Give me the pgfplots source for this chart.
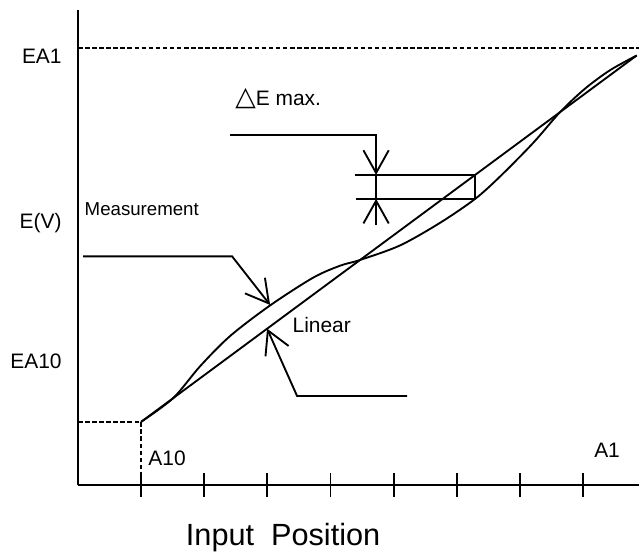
\documentclass[border=0pt]{standalone}
\usepackage{pgfplots}
\pgfplotsset{compat=1.18}
\usepackage{fontspec}
\setmainfont{Liberation Sans}
\newfontfamily\dejavu{DejaVu Sans}
\usetikzlibrary{arrows.meta}

% linearity of the output: ideal line and measured curve (x in tick steps)
\pgfplotstableread{
x      y
1.000  1.000
1.507  1.375
1.934  1.880
2.410  2.359
3.043  2.843
3.724  3.282
4.152  3.472
4.469  3.563
5.102  3.793
5.736  4.151
6.290  4.529
6.686  4.884
7.208  5.413
7.636  5.903
8.032  6.275
8.428  6.567
8.850  6.800
}\measured

\begin{document}
\begin{tikzpicture}
\tikzset{
  ln/.style={black, line width=1.4pt, no markers, solid},
  dashln/.style={ln, dash pattern=on 3.4pt off 1.9pt},
  barb/.style={ln, -{Straight Barb[length=17pt,width=19pt]}},
}
\begin{axis}[
    at={(0,0)}, anchor=south west,
    scale only axis,
    width=420.75pt, height=356.25pt,
    xmin=0, xmax=8.887,
    ymin=0, ymax=7.52,
    axis lines=left,
    axis line style={-, line width=1.4pt},
    xtick={1,...,8}, xticklabels={},
    ytick=\empty,
    tick align=center,
    major tick length=18pt,
    xtick style={line width=1.4pt, black},
    clip=false,
    font=\fontsize{15.7}{18}\selectfont,
]
% reference levels
\addplot[dashln] coordinates {(0,6.912) (8.887,6.912)};
\addplot[dashln] coordinates {(0,1) (1,1) (1,0)};

% linear and measured
\addplot[ln] coordinates {(1,1) (8.85,6.8)};
\addplot[ln, smooth, tension=0.5] table {\measured};

% deviation box
\addplot[ln] coordinates {(4.389,4.910) (6.290,4.910) (6.290,4.530) (4.405,4.530)};
\addplot[barb] coordinates {(2.410,5.543) (4.722,5.543) (4.722,4.910)};
\addplot[barb] coordinates {(4.722,4.118) (4.722,4.530)};
\addplot[ln] coordinates {(4.722,4.530) (4.722,4.910)};

% pointers
\addplot[barb] coordinates {(0.082,3.620) (2.441,3.620) (3.043,2.851)};
\addplot[barb] coordinates {(5.213,1.410) (3.470,1.410) (2.995,2.475)};

% labels
\node[anchor=east, inner sep=0] at (axis cs:-0.256,6.786) {EA1};
\node[anchor=east, inner sep=0] at (axis cs:-0.256,4.150) {E(V)};
\node[anchor=east, inner sep=0] at (axis cs:-0.256,1.964) {EA10};
\node[anchor=west, inner sep=0, font=\fontsize{14}{16}\selectfont] at (axis cs:0.102,4.363) {Measurement};
\node[anchor=west, inner sep=0] at (axis cs:3.396,2.534) {Linear};
\node[anchor=west, inner sep=0] at (axis cs:1.111,0.428) {A10};
\node[anchor=west, inner sep=0] at (axis cs:8.174,0.554) {A1};
\node[anchor=base west, inner sep=0] at (axis cs:2.489,6.003)
  {{\dejavu\fontsize{20}{20}\selectfont △}E max.};
\node[anchor=base, inner sep=0, font=\fontsize{23}{26}\selectfont] at (axis cs:3.249,-0.95) {Input~~Position};
\end{axis}
\pgfresetboundingbox
\path (-58.5pt,-49.5pt) rectangle (420.75pt,363.75pt);
\end{tikzpicture}
\end{document}
